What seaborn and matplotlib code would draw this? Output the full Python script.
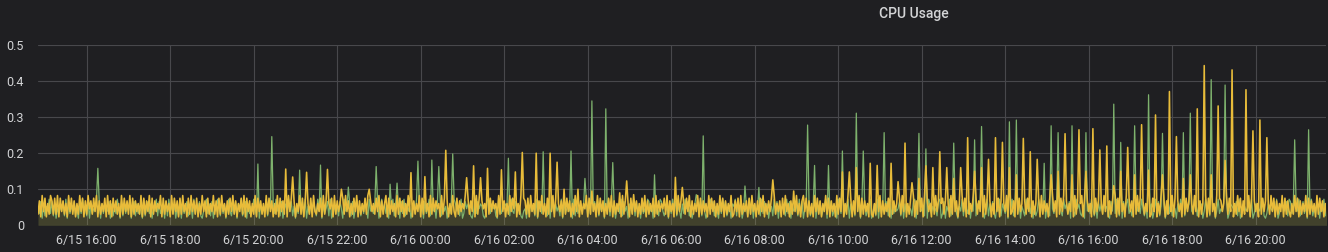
import numpy as np
import pandas as pd
import matplotlib
matplotlib.use("Agg")
import matplotlib.pyplot as plt
import matplotlib.dates as mdates
from matplotlib.ticker import FuncFormatter
import seaborn as sns

# ---------------- data ----------------
START = "2020-06-15 14:50"          # first sample (2-minute step)
STEP = "2min"
series_names = ["cpu-1", "cpu-2"]   # green, yellow

# base level digits: value = offset + scale * digit
green_offset, green_scale = 0.013, 0.0066
yellow_offset, yellow_scale = 0.016, 0.0074
green_base = "".join([
    "53817264938271536482917364825173946281735492817364",
    "48172639518273649158273641925837164928357182946371",
    "62917358246193758214693728154962837159426381759248",
    "17364952817364928517394628157394826153748291637485",
    "29461735829146372851946372815946273851946372815947",
    "36185927461839274615839274618359274618392746153829",
    "74629138576214938576214983756219438576129438576214",
    "51837462915837462918537462918357461928357461928354",
    "83926471539284615739284617539284617352984617352984",
    "24617395826417395826147395826413795826417395824617",
    "69283714562938174562938471562938174652938174562938",
    "15738246917382469173824619738246917382649173824691",
    "47291836548291736458291736452891736452819736452891",
    "38164927583164927538164927583614927583164927538164",
    "92573816429573816249573816429537816429573816429573",
    "26184739526184739562184739526184793526184739526184",
    "71493826571493826517493826571439826571493826571493",
    "54829137654829137645829137654892137654829137654829",
    "83617492583617492538617492583614925836174925836174",
])
yellow_base = "".join([
    "27193816297282918372619382716293817294728391726381",
    "92718372619283729182736291827391827364918273619283",
    "71829361829372816293718263927182936172839271638291",
    "83716291837261928371629183726193827163928173628193",
    "26381927364819273618293716283917263829173628391726",
    "91827361928371629381726391827361928374619283716293",
    "18273649182736192837461928374619283716293847162938",
    "72819362817392618273918263719283716293817264918273",
    "61928371628391726381927361829371628391726381927364",
    "82917361829371628391726391827361928371629381726391",
    "27381926371829361728391627381926371829361728392617",
    "93817261938271639281736192837162938172639182736192",
    "16283917263819273618293716283917263819273618293716",
    "82736192837162938172639182736192837162938172639182",
    "37192836172839172638192736182937162839172638192736",
    "91827361928371629381726391827361928371629381726391",
    "28371629381726391827361928371629381726391827361928",
    "73619283716293817263918273619283716293817263918273",
    "16293817263918273619283716293817263918273619283716",
])

green_spike_times = [
    "06-15 16:16", "06-15 20:06", "06-15 20:26", "06-15 21:06", "06-15 21:36",
    "06-15 22:16", "06-15 22:56", "06-15 23:16", "06-15 23:26", "06-15 23:56",
    "06-16 00:16", "06-16 00:26", "06-16 00:46", "06-16 02:06", "06-16 02:56",
    "06-16 03:36", "06-16 03:56", "06-16 04:06", "06-16 04:26", "06-16 04:36",
    "06-16 05:36", "06-16 06:36", "06-16 06:46", "06-16 07:46", "06-16 08:06",
    "06-16 09:16", "06-16 09:26", "06-16 09:46", "06-16 10:06", "06-16 10:26",
    "06-16 10:36", "06-16 11:06", "06-16 11:56", "06-16 12:06", "06-16 12:46",
    "06-16 13:16", "06-16 13:26", "06-16 14:06", "06-16 14:16", "06-16 14:56",
    "06-16 15:06", "06-16 15:16", "06-16 15:36", "06-16 15:56", "06-16 16:36",
    "06-16 16:46", "06-16 17:06", "06-16 17:26", "06-16 17:46", "06-16 18:16",
    "06-16 18:26", "06-16 18:56", "06-16 19:16", "06-16 20:56", "06-16 21:16",
]
green_spike_vals = [
    0.158, 0.170, 0.246, 0.153, 0.167, 0.106, 0.163, 0.114, 0.117, 0.178,
    0.181, 0.163, 0.198, 0.186, 0.204, 0.206, 0.130, 0.345, 0.323, 0.174,
    0.140, 0.085, 0.248, 0.109, 0.105, 0.278, 0.166, 0.166, 0.206, 0.311,
    0.206, 0.257, 0.255, 0.212, 0.228, 0.237, 0.274, 0.287, 0.292, 0.172,
    0.276, 0.257, 0.276, 0.257, 0.336, 0.230, 0.276, 0.362, 0.255, 0.257,
    0.311, 0.404, 0.389, 0.237, 0.265,
]
yellow_spike_times = [
    "06-15 20:46", "06-15 20:56", "06-15 21:16", "06-15 21:46", "06-15 22:06",
    "06-15 22:46", "06-15 23:46", "06-16 00:06", "06-16 00:36", "06-16 01:06",
    "06-16 01:16", "06-16 01:26", "06-16 01:36", "06-16 01:56", "06-16 02:16",
    "06-16 02:26", "06-16 02:46", "06-16 03:06", "06-16 03:16", "06-16 03:26",
    "06-16 03:46", "06-16 04:06", "06-16 04:46", "06-16 04:56", "06-16 05:06",
    "06-16 06:06", "06-16 06:16", "06-16 08:26", "06-16 08:56", "06-16 10:06",
    "06-16 10:16", "06-16 10:26", "06-16 10:46", "06-16 10:56", "06-16 11:16",
    "06-16 11:26", "06-16 11:36", "06-16 11:46", "06-16 11:56", "06-16 12:06",
    "06-16 12:16", "06-16 12:26", "06-16 12:36", "06-16 12:46", "06-16 12:56",
    "06-16 13:06", "06-16 13:16", "06-16 13:26", "06-16 13:36", "06-16 13:46",
    "06-16 13:56", "06-16 14:06", "06-16 14:16", "06-16 14:26", "06-16 14:36",
    "06-16 14:46", "06-16 15:06", "06-16 15:16", "06-16 15:26", "06-16 15:36",
    "06-16 15:46", "06-16 15:56", "06-16 16:06", "06-16 16:16", "06-16 16:26",
    "06-16 16:36", "06-16 16:46", "06-16 16:56", "06-16 17:06", "06-16 17:16",
    "06-16 17:26", "06-16 17:36", "06-16 17:46", "06-16 17:56", "06-16 18:06",
    "06-16 18:16", "06-16 18:26", "06-16 18:36", "06-16 18:46", "06-16 18:56",
    "06-16 19:06", "06-16 19:16", "06-16 19:26", "06-16 19:46", "06-16 19:56",
    "06-16 20:06", "06-16 20:16",
]
yellow_spike_vals = [
    0.156, 0.134, 0.147, 0.155, 0.100, 0.100, 0.146, 0.135, 0.208, 0.132,
    0.165, 0.132, 0.158, 0.154, 0.148, 0.202, 0.200, 0.200, 0.175, 0.100,
    0.100, 0.095, 0.090, 0.123, 0.085, 0.133, 0.105, 0.126, 0.095, 0.148,
    0.148, 0.160, 0.172, 0.166, 0.172, 0.121, 0.228, 0.118, 0.130, 0.165,
    0.160, 0.204, 0.160, 0.130, 0.160, 0.243, 0.150, 0.160, 0.183, 0.243,
    0.230, 0.160, 0.140, 0.241, 0.204, 0.183, 0.140, 0.150, 0.254, 0.140,
    0.265, 0.150, 0.268, 0.209, 0.220, 0.110, 0.150, 0.216, 0.140, 0.279,
    0.153, 0.306, 0.140, 0.371, 0.246, 0.130, 0.140, 0.323, 0.443, 0.140,
    0.331, 0.180, 0.431, 0.376, 0.262, 0.292, 0.243,
]

y_ticks = [0, 0.1, 0.2, 0.3, 0.4, 0.5]
x_start, x_end = "2020-06-15 14:50", "2020-06-16 21:41"

# ---------------- build frame ----------------
def build(base, offset, scale, spike_times, spike_vals):
    times = pd.date_range(START, periods=len(base), freq=STEP)
    s = pd.Series([offset + scale * int(c) for c in base], index=times)
    for t, v in zip(spike_times, spike_vals):
        ts = pd.Timestamp("2020-" + t)
        if ts in s.index:
            s.loc[ts] = v
    return s

g = build(green_base, green_offset, green_scale, green_spike_times, green_spike_vals)
yv = build(yellow_base, yellow_offset, yellow_scale, yellow_spike_times, yellow_spike_vals)
df = pd.concat([
    pd.DataFrame({"time": g.index, "value": g.values, "series": series_names[0]}),
    pd.DataFrame({"time": yv.index, "value": yv.values, "series": series_names[1]}),
])

# ---------------- style ----------------
BG = "#1f1f22"
TXT = "#d3d4d6"
GREEN = "#7EB26D"
YELLOW = "#E8BC3A"
sns.set_theme(style="dark")
plt.rcParams["font.family"] = ["Roboto", "DejaVu Sans"]

fig = plt.figure(figsize=(13.28, 2.52), dpi=100, facecolor=BG)
ax = fig.add_axes([38 / 1328, 1 - 225.3 / 252, 1288 / 1328, (225.3 - 45) / 252])
ax.set_facecolor(BG)

sns.lineplot(data=df[df.series == series_names[0]], x="time", y="value",
             color=GREEN, estimator=None, linewidth=0.9, ax=ax, zorder=3)
sns.lineplot(data=df[df.series == series_names[1]], x="time", y="value",
             color=YELLOW, estimator=None, linewidth=1.15, ax=ax, zorder=4)
ax.fill_between(g.index, 0, g.values, color=GREEN, alpha=0.12, lw=0, zorder=2)
ax.fill_between(yv.index, 0, yv.values, color=YELLOW, alpha=0.12, lw=0, zorder=2)

ax.set_xlim(pd.Timestamp(x_start), pd.Timestamp(x_end))
ax.set_ylim(0, 0.5)
ax.set_yticks(y_ticks)
ax.yaxis.set_major_formatter(FuncFormatter(lambda v, p: "0" if v == 0 else f"{v:.1f}"))
ax.xaxis.set_major_locator(mdates.HourLocator(byhour=range(0, 24, 2)))

def fmt_date(x, pos):
    d = mdates.num2date(x)
    return f"{d.month}/{d.day} {d:%H:%M}"

ax.xaxis.set_major_formatter(FuncFormatter(fmt_date))
ax.grid(True, color="#48484c", linewidth=0.8, zorder=0)
ax.set_axisbelow(True)
for sp in ax.spines.values():
    sp.set_visible(False)
ax.tick_params(axis="x", colors=TXT, labelsize=9, length=0, pad=6)
ax.tick_params(axis="y", colors=TXT, labelsize=9, length=0, pad=10)
ax.set_xlabel("")
ax.set_ylabel("")

fig.text(914 / 1328, 1 - 14 / 252, "CPU Usage", color=TXT, fontsize=10,
         fontweight="medium", ha="center", va="center")

fig.savefig("out.png", dpi=100, facecolor=BG)
